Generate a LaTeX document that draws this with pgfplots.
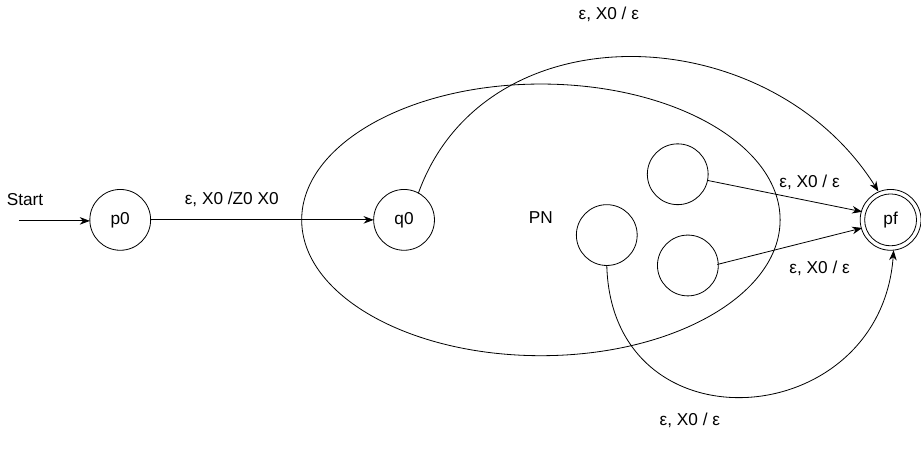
\documentclass[border=0pt]{standalone}
\usepackage{pgfplots}
\pgfplotsset{compat=1.18}
\usepackage{fontspec}
\setmainfont{Liberation Sans}
\usetikzlibrary{arrows.meta}
\begin{document}
\begin{tikzpicture}
\begin{axis}[x=0.5pt,y=0.5pt,xmin=0,xmax=921,ymin=0,ymax=440,axis lines=none,clip=false,
  ticks=none,font=\fontsize{8.5}{10}\selectfont]
\addplot[only marks,mark=o,mark size=15pt,mark options={draw=black,fill=none,line width=0.4pt}]
 coordinates {(130,220) (410,220) (610,205) (680,265) (690,175) (890,220)};
\addplot[only marks,mark=o,mark size=12.8pt,mark options={draw=black,fill=none,line width=0.4pt}]
 coordinates {(890,220)};
\draw[line width=0.4pt] (axis cs:545,220) ellipse [x radius=236, y radius=134];
\node at (axis cs:130,220) {p0};
\node at (axis cs:410,220) {q0};
\node at (axis cs:890,220) {pf};
\node at (axis cs:545,222) {PN};
\node at (axis cs:36,240) {Start};
\draw[-{Stealth[length=5pt]}] (axis cs:30,219) -- (axis cs:100,219);
\draw[-{Stealth[length=5pt]}] (axis cs:160,220) -- (axis cs:380,220);
\node at (axis cs:240,240) {ε, X0 /Z0 X0};
\draw[-{Stealth[length=5pt]}] (axis cs:709,259) -- (axis cs:862,228);
\draw[-{Stealth[length=5pt]}] (axis cs:719,176) -- (axis cs:862,212);
\draw[-{Stealth[length=5pt]}] (axis cs:424,246) .. controls (axis cs:490,430) and (axis cs:770,420) .. (axis cs:878,248);
\draw[-{Stealth[length=5pt]}] (axis cs:610,175) .. controls (axis cs:615,-10) and (axis cs:880,10) .. (axis cs:893,190);
\node at (axis cs:612,423) {ε, X0 / ε};
\node at (axis cs:810,257) {ε, X0 / ε};
\node at (axis cs:820,172) {ε, X0 / ε};
\node at (axis cs:692,22) {ε, X0 / ε};
\end{axis}
\end{tikzpicture}
\end{document}
